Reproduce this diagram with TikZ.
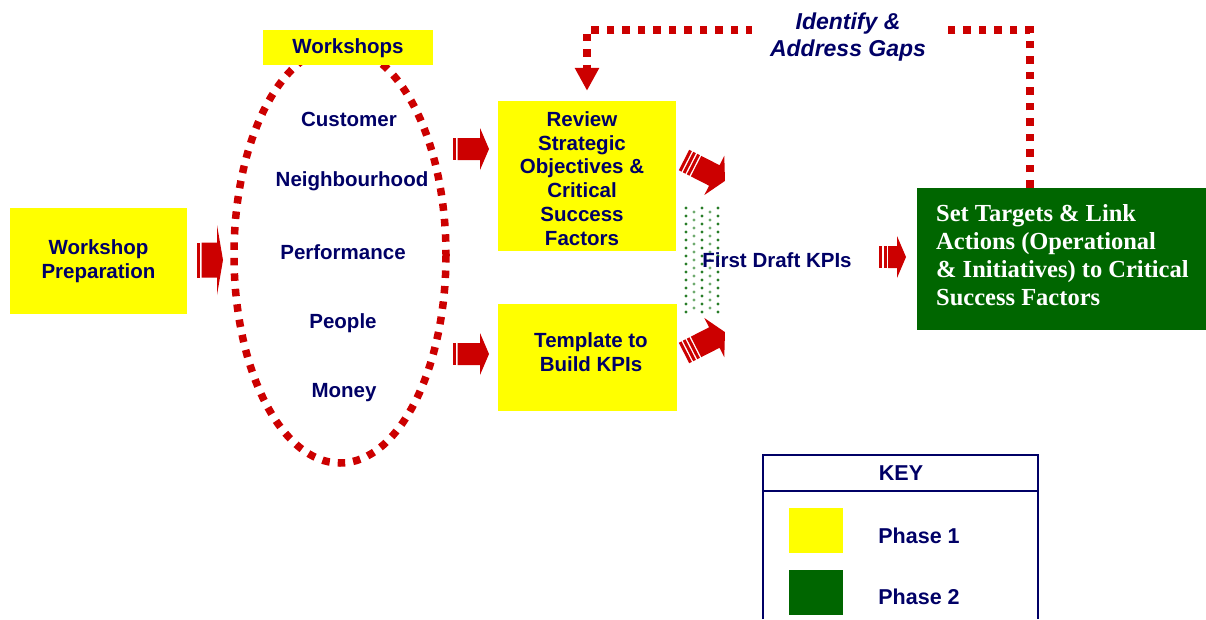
\documentclass[tikz,border=0pt]{standalone}
\usepackage{fontspec}
\setmainfont{Liberation Sans}
\newfontfamily\boxserif{Liberation Serif}
\usetikzlibrary{arrows.meta,calc}
\definecolor{navy}{RGB}{0,0,102}
\definecolor{arrowred}{RGB}{204,0,0}
\definecolor{phaseone}{RGB}{255,255,0}
\definecolor{phasetwo}{RGB}{0,102,0}
\definecolor{dotgreen}{RGB}{40,125,40}
\definecolor{dotlight}{RGB}{110,170,110}

\tikzset{
  lbl/.style={font=\bfseries\fontsize{20.5}{23.7}\selectfont, text=navy, align=center, inner sep=0pt},
  ybox/.style={fill=phaseone, inner sep=0pt},
  reddots/.style={draw=arrowred, line width=7.5pt, dash pattern=on 7.5pt off 8pt},
  % striped block arrow: body length, body half height, head half height, head length, number of bars
  pics/blockarrow/.style args={#1,#2,#3,#4,#5}{code={
    \foreach \k in {1,...,#5}{\fill[arrowred] ({(\k-1)*4.5},-#2) rectangle ++(3,2*#2);}
    \fill[arrowred] ({#5*4.5},-#2) -- (#1,-#2) -- (#1,-#3) -- ({#1+#4},0)
      -- (#1,#3) -- (#1,#2) -- ({#5*4.5},#2) -- cycle;
  }}
}

\begin{document}
\begin{tikzpicture}[x=1pt,y=-1pt]
\useasboundingbox (0,0) rectangle (1206,619);

% workshop circle
\draw[reddots] (340,255) ellipse [x radius=106, y radius=208];
\node[ybox, minimum width=170pt, minimum height=35pt] (wsh) at (348,47.5) {};
\node[lbl] (wshtext) at (348,48) {Workshops};

\node[lbl] (cust) at (349,119) {Customer};
\node[lbl] (neigh) at (352,181) {Neighbourhood};
\node[lbl] (perf) at (343,252) {Performance};
\node[lbl] (people) at (343,323) {People};
\node[lbl] (money) at (344,393) {Money};

% preparation
\node[ybox, minimum width=177pt, minimum height=106pt, lbl] (prep) at (98.5,261) {Workshop\\Preparation};

% phase 1 boxes
\node[ybox, minimum width=178pt, minimum height=150pt] (review) at (587,176) {};
\node[lbl] (reviewtext) at (582,178.5) {Review\\Strategic\\Objectives \&\\Critical\\Success\\Factors};
\node[ybox, minimum width=179pt, minimum height=107pt] (templ) at (587.5,357.5) {};
\node[lbl] (templtext) at (591,352.5) {Template to\\Build KPIs};

% phase 2 box
\node[fill=phasetwo, minimum width=289pt, minimum height=142pt, inner sep=0pt] (gbox) at (1061.5,259) {};
\node[anchor=north west, inner sep=0pt, text=white, align=left,
      font=\boxserif\bfseries\fontsize{24.5}{28.2}\selectfont] (gtext) at (936,204)
  {Set Targets \& Link\\Actions (Operational\\\& Initiatives) to Critical\\Success Factors};

% first draft KPIs
\foreach \cx in {686,702,718}
  \foreach \cy in {208,216,...,312}
    \fill[dotgreen] (\cx,\cy) circle (1.6);
\foreach \cx in {694,710}
  \foreach \cy in {212,220,...,308}
    \fill[dotlight] (\cx,\cy) circle (1.6);
\node[lbl] (kpis) at (777,260) {First Draft KPIs};

% block arrows
\pic at (197,260) {blockarrow={20,17.5,35,6,1}};
\pic at (453,149) {blockarrow={27,11,21,9,1}};
\pic at (453,354) {blockarrow={27,11,21,9,1}};
\pic[rotate=-27] at (684,160) {blockarrow={34,11.5,22,12,3}};
\pic[rotate=27] at (684,353) {blockarrow={34,11.5,22,12,3}};
\pic at (879,257) {blockarrow={18,11,21,9,2}};

% feedback loop
\coordinate (fbx) at (1030,0);
\coordinate (fbtop) at (800,30);
\draw[reddots, shorten >=10pt, -{Triangle[width=23pt,length=23pt]}]
  (gbox.north -| fbx) |- (fbtop) -| (review.north);
\node[font=\bfseries\itshape\fontsize{23}{27}\selectfont, text=navy, fill=white,
      align=center, inner xsep=18pt, inner ysep=0pt] (gaps) at (848,37)
  {Identify \&\\Address Gaps};

% key
\draw[navy, line width=2pt] (763,619) -- (763,455) -- (1038,455) -- (1038,619);
\draw[navy, line width=2pt] (763,491) -- (1038,491);
\node[lbl, font=\bfseries\fontsize{21.5}{24}\selectfont] (keyhead) at (901,473) {KEY};
\node[fill=phaseone, minimum width=54pt, minimum height=45pt, inner sep=0pt] (sw1) at (816,530.5) {};
\node[fill=phasetwo, minimum width=54pt, minimum height=45pt, inner sep=0pt] (sw2) at (816,592.5) {};
\node[lbl, font=\bfseries\fontsize{21.5}{24}\selectfont] (ph1) at (919,535.5) {Phase 1};
\node[lbl, font=\bfseries\fontsize{21.5}{24}\selectfont] (ph2) at (919,597) {Phase 2};
\end{tikzpicture}
\end{document}
